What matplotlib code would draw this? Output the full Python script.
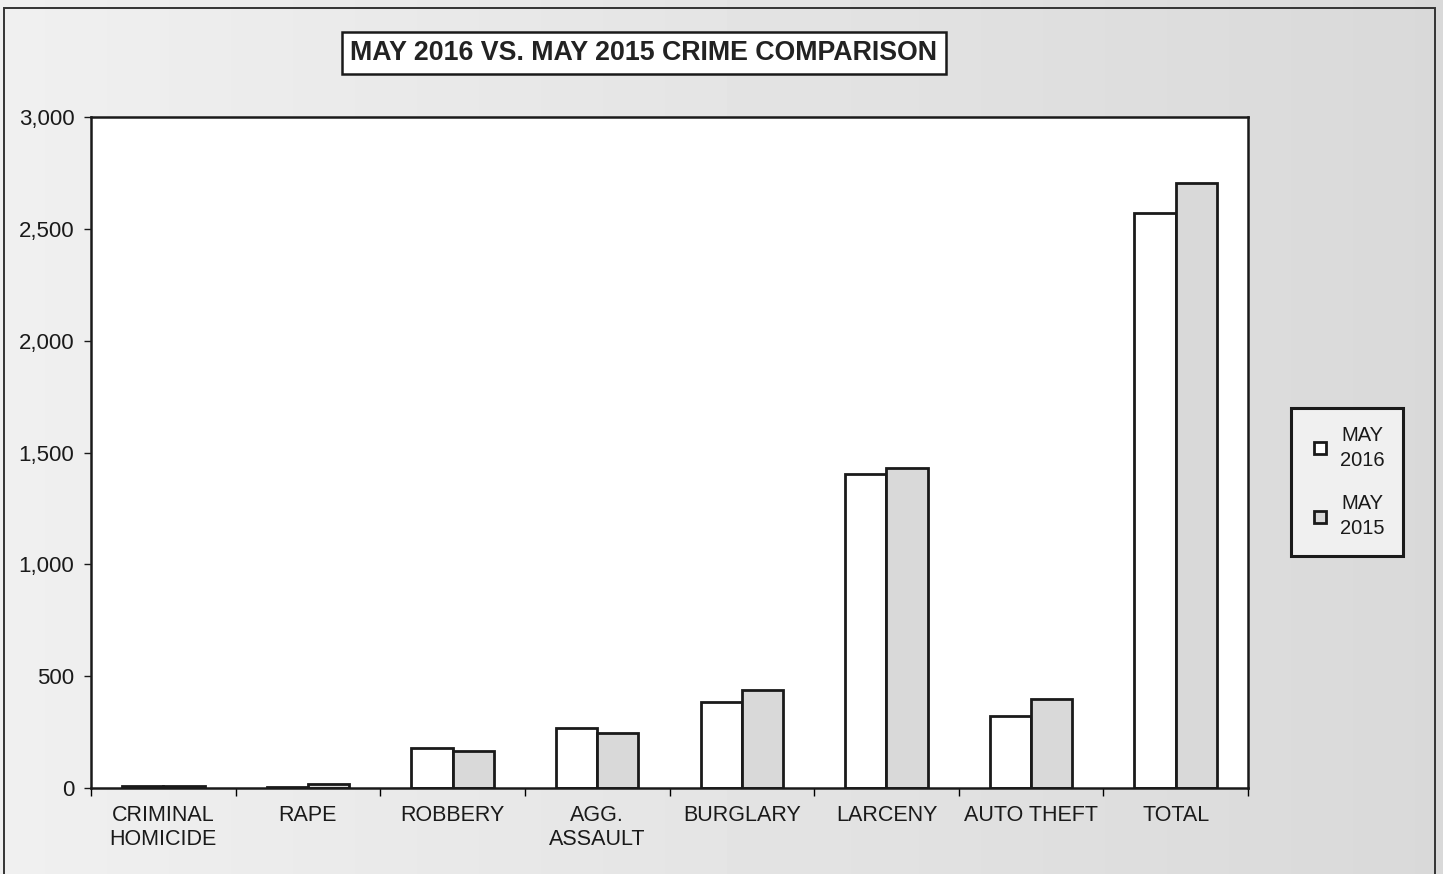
import numpy as np
import matplotlib.pyplot as plt
from matplotlib.lines import Line2D
from matplotlib.patches import Rectangle
import matplotlib.ticker as mticker

plt.rcParams['font.family'] = ['Liberation Sans', 'DejaVu Sans']

categories = ["CRIMINAL\nHOMICIDE", "RAPE", "ROBBERY", "AGG.\nASSAULT",
              "BURGLARY", "LARCENY", "AUTO THEFT", "TOTAL"]
may_2016 = [8, 6, 179, 267, 385, 1404, 322, 2571]
may_2015 = [7, 17, 164, 247, 438, 1431, 398, 2705]
y_ticks = [0, 500, 1000, 1500, 2000, 2500, 3000]

W, H = 1443, 874
fig = plt.figure(figsize=(W / 100, H / 100), dpi=100)

# scanned page look: soft grey gradient behind everything
bg = fig.add_axes([0, 0, 1, 1], zorder=-10)
grad = np.linspace(0.94, 0.85, 256).reshape(1, -1)
bg.imshow(grad, aspect='auto', cmap='gray', vmin=0, vmax=1, extent=[0, 1, 0, 1])
bg.set_axis_off()

# outer chart frame
fig.add_artist(Rectangle((4 / W, -0.01), 1431 / W, 1 - 8 / H + 0.01,
                         transform=fig.transFigure, fill=False,
                         edgecolor='#333333', linewidth=1.4))

ax = fig.add_axes([91 / W, (H - 788) / H, (1248 - 91) / W, (788 - 117) / H])
ax.set_facecolor('white')

x = np.arange(len(categories))
bw = 0.285
ax.bar(x - bw / 2, may_2016, bw, color='white', edgecolor='#1a1a1a',
       linewidth=2, label="MAY\n2016")
ax.bar(x + bw / 2, may_2015, bw, color='#d9d9d9', edgecolor='#1a1a1a',
       linewidth=2, label="MAY\n2015")

ax.set_xlim(-0.5, len(categories) - 0.5)
ax.set_ylim(0, 3000)
ax.set_yticks(y_ticks)
ax.yaxis.set_major_formatter(mticker.StrMethodFormatter('{x:,.0f}'))
ax.tick_params(axis='y', labelsize=16, length=5, width=1, direction='out',
               pad=7, colors='#1a1a1a')

ax.set_xticks(np.arange(len(categories) + 1) - 0.5)
ax.set_xticklabels([])
ax.set_xticks(x, minor=True)
ax.set_xticklabels(categories, minor=True, fontsize=15.5, linespacing=1.2)
ax.tick_params(axis='x', which='major', length=6, width=1, direction='out')
ax.tick_params(axis='x', which='minor', length=0, pad=12, colors='#1a1a1a')

for sp in ax.spines.values():
    sp.set_linewidth(1.8)
    sp.set_color('#1a1a1a')

fig.text(644 / W, 1 - 53 / H, "MAY 2016 VS. MAY 2015 CRIME COMPARISON",
         ha='center', va='center', fontsize=19.3, fontweight='bold', color='#222222',
         bbox=dict(boxstyle='square,pad=0.3', facecolor='white',
                   edgecolor='#1a1a1a', linewidth=1.8))

handles = [
    Line2D([], [], marker='s', linestyle='none', markersize=8,
           markerfacecolor='white', markeredgecolor='#1a1a1a', markeredgewidth=2),
    Line2D([], [], marker='s', linestyle='none', markersize=8,
           markerfacecolor='#d9d9d9', markeredgecolor='#1a1a1a', markeredgewidth=2),
]
leg = fig.legend(handles, ["MAY\n2016", "MAY\n2015"], loc='center',
                 bbox_to_anchor=(1347 / W, 1 - 482 / H), fontsize=14.5,
                 frameon=True, fancybox=False, edgecolor='#1a1a1a',
                 facecolor='#f0f0f0', framealpha=1, labelspacing=1.2,
                 handlelength=1.0, handletextpad=0.5, borderpad=0.9,
                 borderaxespad=0)
leg.get_frame().set_linewidth(2.2)
for t in leg.get_texts():
    t.set_multialignment('center')
    t.set_linespacing(1.4)
    t.set_color('#1a1a1a')

fig.savefig('out.png', dpi=100)
